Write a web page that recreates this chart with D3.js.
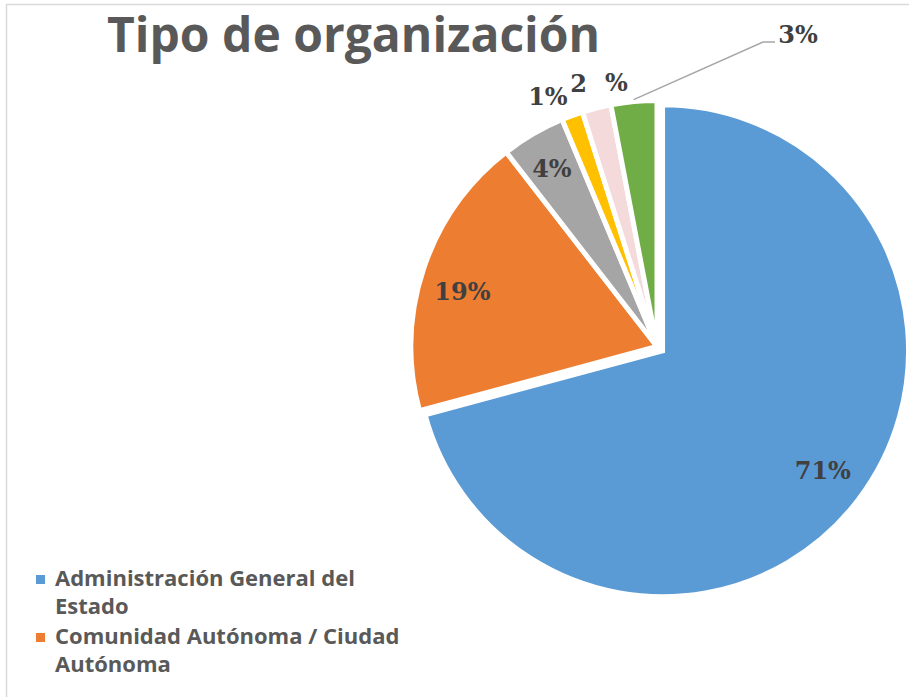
<!DOCTYPE html>
<html>
<head>
<meta charset="utf-8">
<script src="https://cdn.jsdelivr.net/npm/d3@7"></script>
<style>
  body { margin: 0; background: #ffffff; }
  svg { display: block; }
</style>
</head>
<body>
<div id="chart"></div>
<script>

// ------------------------------------------------- data

const categories = [
    "Administración General del Estado",
    "Comunidad Autónoma / Ciudad Autónoma",
    "Categoría 3",
    "Categoría 4",
    "Categoría 5",
    "Categoría 6"
];
const values = [70.8, 18.7, 4.2, 1.4, 1.9, 3.0];
const colors = ["#5B9BD5", "#ED7D31", "#A5A5A5", "#FFC000", "#F4DADA", "#70AD47"];

// legend rows as they show in the picture (the rest is cut off)
const legend_lines = [
    ["Administración General del", "Estado"],
    ["Comunidad Autónoma / Ciudad", "Autónoma"]
];

// ------------------------------------------------- layout

const SVG_W = 909;
const SVG_H = 697;

const PIE_CX = 657;
const PIE_CY = 346.5;
const PIE_R = 246;
const EXPLODE_BLUE = 7;

const COLOR_TEXT = "#595959";
const COLOR_LABEL = "#404040";

// label nudges (px) for the labels Excel moved around
const LABEL_NUDGE = [[4, 0], [-8, 8], [-6, -8], [-15, 6], [9, 2], [0, 0]];

// -------------------------------------------------

let svg = d3.select("#chart")
                .append("svg")
                    .attr("width", SVG_W)
                    .attr("height", SVG_H);

// chart border
svg.append("rect")
        .attr("x", 6.5)
        .attr("y", 4.5)
        .attr("width", SVG_W + 20)
        .attr("height", SVG_H + 20)
        .attr("fill", "none")
        .attr("stroke", "#D9D9D9")
        .attr("stroke-width", 1.5)

// title
svg.append("text")
        .attr("x", 107)
        .attr("y", 52)
        .attr("fill", COLOR_TEXT)
        .attr("font-family", "'Open Sans', sans-serif")
        .attr("font-weight", "bold")
        .attr("font-size", 48)
        .text("Tipo de organización")

// ------------------------------------------------- pie

let pie = d3.pie()
            .sort(null)
            .value(function(d) { return d; })

let arcs = pie(values)

let arc = d3.arc()
            .innerRadius(0)
            .outerRadius(PIE_R)

let g_pie = svg.append("g")
                .attr("transform", "translate(" + PIE_CX + "," + PIE_CY + ")")

function offset(d, r) {
    let a = (d.startAngle + d.endAngle) / 2;
    return [Math.sin(a) * r, -Math.cos(a) * r];
}

g_pie.selectAll("path")
        .data(arcs)
        .enter()
        .append("path")
            .attr("d", arc)
            .attr("fill", function(d, i) { return colors[i]; })
            .attr("stroke", "#ffffff")
            .attr("stroke-width", 5)
            .attr("stroke-linejoin", "miter")
            .attr("transform", function(d, i) {
                if (i != 0) return null;
                let o = offset(d, EXPLODE_BLUE);
                return "translate(" + o[0] + "," + o[1] + ")";
            })

// ------------------------------------------------- labels

let fmt = function(v) { return Math.round(v) + "%"; };

function label_pos(d, i) {
    let p;
    if (i == 0) p = offset(d, 0.8 * PIE_R + EXPLODE_BLUE);
    else if (i <= 2) p = offset(d, 0.8 * PIE_R);
    else if (i <= 4) p = offset(d, 1.11 * PIE_R);
    // last one was dragged away by hand, with a leader line
    else p = [798 - PIE_CX, 35 - PIE_CY];
    return [p[0] + LABEL_NUDGE[i][0], p[1] + LABEL_NUDGE[i][1]];
}

let lab = g_pie.selectAll("text.lbl")
        .data(arcs)
        .enter()
        .append("text")
            .attr("class", "lbl")
            .attr("x", function(d, i) { return label_pos(d, i)[0]; })
            .attr("y", function(d, i) { return label_pos(d, i)[1]; })
            .attr("dy", "0.35em")
            .attr("text-anchor", "middle")
            .attr("fill", COLOR_LABEL)
            .attr("font-family", "'DejaVu Serif', serif")
            .attr("font-weight", "bold")
            .attr("font-size", 24)

lab.each(function(d, i) {
    let t = d3.select(this);
    let s = fmt(d.value);
    if (i == 4) {
        // this label breaks apart in the original
        t.append("tspan").text(s.slice(0, -1));
        t.append("tspan").attr("dx", 18).attr("dy", -1).text("%");
    } else {
        t.text(s);
    }
})

// leader line of the last label
{
    let d = arcs[5];
    let p0 = offset(d, PIE_R + 2);
    let p1 = [763 - PIE_CX, 42 - PIE_CY];
    let p2 = [775 - PIE_CX, 42 - PIE_CY];
    g_pie.append("path")
            .attr("d", d3.line()([p0, p1, p2]))
            .attr("fill", "none")
            .attr("stroke", "#A6A6A6")
            .attr("stroke-width", 1.5)
}

// ------------------------------------------------- legend

let g_leg = svg.append("g")

legend_lines.forEach(function(lines, i) {
    let y0 = 586 + i * 58;
    g_leg.append("rect")
            .attr("x", 36)
            .attr("y", y0 - 11)
            .attr("width", 9)
            .attr("height", 9)
            .attr("fill", colors[i])
    lines.forEach(function(line, j) {
        g_leg.append("text")
                .attr("x", 55)
                .attr("y", y0 + j * 28)
                .attr("fill", COLOR_TEXT)
                .attr("font-family", "'Open Sans', sans-serif")
                .attr("font-weight", "bold")
                .attr("font-size", 22)
                .text(line)
    })
})

</script>
</body>
</html>
